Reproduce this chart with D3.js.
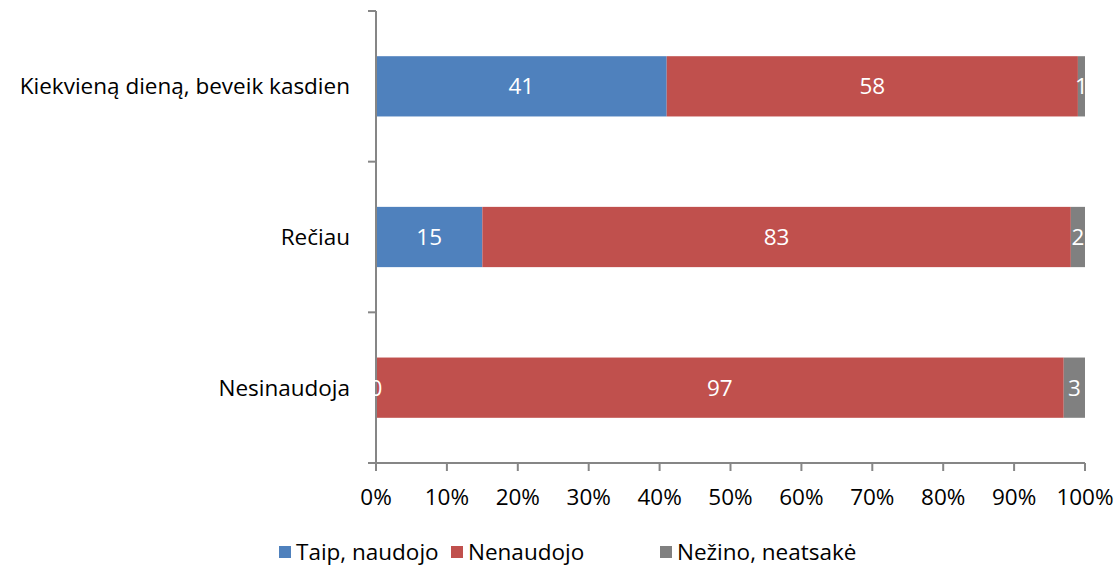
<!DOCTYPE html>
<html>
<head>
<meta charset="utf-8">
<script src="https://cdn.jsdelivr.net/npm/d3@7"></script>
<style>
  body { margin: 0; background: #fff; }
  svg { font-family: "Open Sans", "Liberation Sans", sans-serif; }
</style>
</head>
<body>
<svg width="1117" height="568"></svg>
<script>
const categories = ['Kiekvieną dieną, beveik kasdien', 'Rečiau', 'Nesinaudoja'];
const seriesNames = ['Taip, naudojo', 'Nenaudojo', 'Nežino, neatsakė'];
const taip = [41, 15, 0];
const nenaudojo = [58, 83, 97];
const nezino = [1, 2, 3];
const tickLabels = ['0%', '10%', '20%', '30%', '40%', '50%', '60%', '70%', '80%', '90%', '100%'];

const colors = ['#4F81BD', '#C0504D', '#808080'];
const axisColor = '#868686';
const fontSize = '22.5px';

const rows = categories.map((c, i) => ({ cat: c, Taip: taip[i], Nen: nenaudojo[i], Nez: nezino[i] }));
const keys = ['Taip', 'Nen', 'Nez'];
const series = d3.stack().keys(keys)(rows);

const svg = d3.select('svg');
const x = d3.scaleLinear().domain([0, 100]).range([376, 1085]);
const y = d3.scaleBand().domain(categories).range([11, 463]).paddingInner(0.6).paddingOuter(0.3);

// bars
svg.selectAll('.layer')
  .data(series)
  .enter().append('g')
    .attr('class', 'layer')
    .attr('fill', (d, i) => colors[i])
  .selectAll('rect')
  .data(d => d)
  .enter().append('rect')
    .attr('x', d => x(d[0]))
    .attr('y', d => y(d.data.cat))
    .attr('width', d => x(d[1]) - x(d[0]))
    .attr('height', y.bandwidth());

// left axis
const yTicks = [11, 11 + y.step(), 11 + 2 * y.step(), 463];
svg.append('line')
  .attr('x1', 376).attr('x2', 376).attr('y1', 11).attr('y2', 471)
  .attr('stroke', axisColor).attr('stroke-width', 2);
svg.selectAll('.ytick')
  .data(yTicks)
  .enter().append('line')
    .attr('x1', 368).attr('x2', 376)
    .attr('y1', d => d).attr('y2', d => d)
    .attr('stroke', axisColor).attr('stroke-width', 2);

svg.selectAll('.ylabel')
  .data(categories)
  .enter().append('text')
    .attr('x', 350)
    .attr('y', d => y(d) + y.bandwidth() / 2)
    .attr('dy', '0.35em')
    .attr('text-anchor', 'end')
    .attr('fill', '#000')
    .style('font-size', fontSize)
    .text(d => d);

// value labels, on top of all bars
svg.append('g')
  .selectAll('g')
  .data(series)
  .enter().append('g')
  .selectAll('text')
  .data(d => d)
  .enter().append('text')
    .attr('x', d => (x(d[0]) + x(d[1])) / 2)
    .attr('y', d => y(d.data.cat) + y.bandwidth() / 2)
    .attr('dy', '0.35em')
    .attr('text-anchor', 'middle')
    .attr('fill', '#fff')
    .style('font-size', fontSize)
    .text(d => d[1] - d[0]);

// bottom axis
svg.append('line')
  .attr('x1', 368).attr('x2', 1085).attr('y1', 463).attr('y2', 463)
  .attr('stroke', axisColor).attr('stroke-width', 2);
svg.selectAll('.xtick')
  .data(d3.range(0, 101, 10))
  .enter().append('line')
    .attr('x1', d => x(d)).attr('x2', d => x(d))
    .attr('y1', 463).attr('y2', 471)
    .attr('stroke', axisColor).attr('stroke-width', 2);
svg.selectAll('.xlabel')
  .data(tickLabels)
  .enter().append('text')
    .attr('x', (d, i) => x(i * 10))
    .attr('y', 505)
    .attr('text-anchor', 'middle')
    .attr('fill', '#000')
    .style('font-size', fontSize)
    .text(d => d);

// legend
const legendX = [279, 451, 660];
const legend = svg.selectAll('.legend')
  .data(seriesNames)
  .enter().append('g')
    .attr('transform', (d, i) => `translate(${legendX[i]},546)`);
legend.append('rect')
  .attr('width', 12).attr('height', 12)
  .attr('fill', (d, i) => colors[i]);
legend.append('text')
  .attr('x', 17).attr('y', 6)
  .attr('dy', '0.35em')
  .attr('fill', '#000')
  .style('font-size', fontSize)
  .text(d => d);
</script>
</body>
</html>
